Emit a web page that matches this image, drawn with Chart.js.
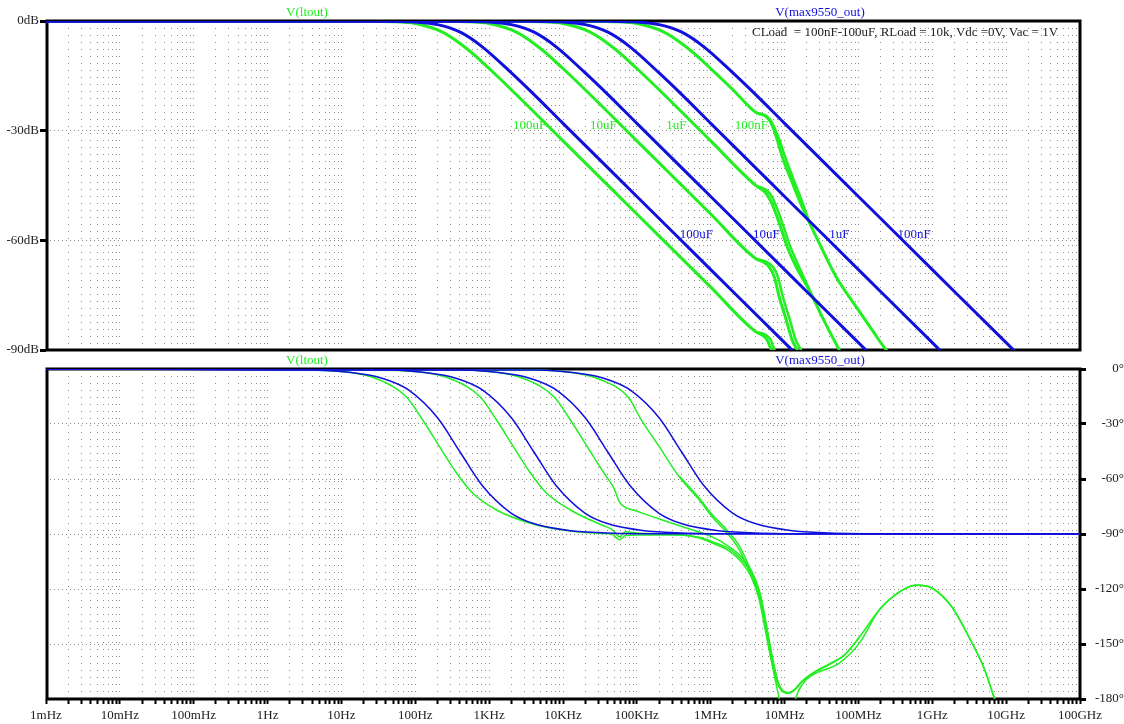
<!DOCTYPE html>
<html>
<head>
<meta charset="utf-8">
<script src="https://cdn.jsdelivr.net/npm/chart.js@4.4.1/dist/chart.umd.min.js"></script>
<style>
  html, body { margin: 0; padding: 0; background: #fff; }
  #wrap { position: relative; width: 1124px; height: 724px; overflow: hidden; }
  canvas { position: absolute; left: 0; }
  #magChart { top: 0; }
  #phaseChart { top: 352px; }
</style>
</head>
<body>
<div id="wrap">
  <canvas id="magChart" width="1124" height="362"></canvas>
  <canvas id="phaseChart" width="1124" height="372"></canvas>
</div>
<script>
// tick labels
var freqTickLabels = ['1mHz', '10mHz', '100mHz', '1Hz', '10Hz', '100Hz', '1KHz', '10KHz', '100KHz', '1MHz', '10MHz', '100MHz', '1GHz', '10GHz', '100GHz'];
var magTickLabels = ['0dB', '-30dB', '-60dB', '-90dB'];
var phaseTickLabels = ['0°', '-30°', '-60°', '-90°', '-120°', '-150°', '-180°'];
var capLabels = ['100uF', '10uF', '1uF', '100nF'];

// where the curve names sit on the magnitude plot (Hz, dB)
var greenLabelF = [3.52e3, 3.53e4, 3.43e5, 3.55e6];
var greenLabelDb = -28.5;
var blueLabelF = [6.4e5, 5.66e6, 5.5e7, 5.68e8];
var blueLabelDb = -58.5;

// ---- magnitude, V(max9550_out) ----
var fMagBlue100u = [1e-3, 10, 40, 100, 200, 400, 800, 2e3, 4e3, 1e4, 1e5, 1e6, 1e7, 3e7];
var magBlue100u  = [0, 0, -0.04, -0.3, -1, -3, -7, -14.2, -20, -28, -48, -68, -88, -97.5];
var fMagBlue10u  = [1e-3, 100, 400, 1e3, 2e3, 4e3, 8e3, 2e4, 4e4, 1e5, 1e6, 1e7, 1e8, 3e8];
var magBlue10u   = [0, 0, -0.04, -0.3, -1, -3, -7, -14.2, -20, -28, -48, -68, -88, -97.5];
var fMagBlue1u   = [1e-3, 1e3, 4e3, 1e4, 2e4, 4e4, 8e4, 2e5, 4e5, 1e6, 1e7, 1e8, 1e9, 3e9];
var magBlue1u    = [0, 0, -0.04, -0.3, -1, -3, -7, -14.2, -20, -28, -48, -68, -88, -97.5];
var fMagBlue100n = [1e-3, 1e4, 4e4, 1e5, 2e5, 4e5, 8e5, 2e6, 4e6, 1e7, 1e8, 1e9, 1e10, 3e10];
var magBlue100n  = [0, 0, -0.04, -0.3, -1, -3, -7, -14.2, -20, -28, -48, -68, -88, -97.5];

// ---- magnitude, V(ltout) (each load shows two close traces) ----
var fMagGreen100u  = [1e-3, 10, 50, 100, 230, 500, 1e3, 3e3, 1e4, 1e5, 1e6, 4.14e6, 4.99e6, 5.83e6, 6.61e6, 7.5e6];
var magGreen100u   = [0, -0.01, -0.2, -0.7, -3, -7.6, -13, -22.3, -32.8, -52.8, -72.8, -85.1, -85.9, -87.3, -90, -93];
var fMagGreen100uB = [4.14e6, 5.6e6, 6.5e6, 7.3e6, 8.2e6];
var magGreen100uB  = [-85.1, -85.9, -87.3, -90, -93];

var fMagGreen10u  = [1e-3, 100, 500, 1e3, 2.3e3, 5e3, 1e4, 3e4, 1e5, 1e6, 4.14e6, 4.99e6, 6.21e6, 7.26e6, 8.48e6, 1.054e7, 1.27e7, 1.486e7, 1.8e7];
var magGreen10u   = [0, -0.01, -0.2, -0.7, -3, -7.6, -13, -22.3, -32.8, -52.8, -65.1, -65.8, -67.3, -70.0, -75.5, -81.8, -87.3, -90, -94];
var fMagGreen10uB = [4.14e6, 5.6e6, 7.0e6, 8.1e6, 9.5e6, 1.18e7, 1.42e7, 1.66e7, 1.9e7];
var magGreen10uB  = [-65.1, -65.8, -67.3, -70.0, -75.5, -81.8, -87.3, -90, -93];

var fMagGreen1u  = [1e-3, 1e3, 5e3, 1e4, 2.3e4, 5e4, 1e5, 3e5, 1e6, 4.14e6, 5.0e6, 5.66e6, 6.82e6, 8.48e6, 1.087e7, 1.44e7, 2.16e7, 3.24e7, 5.5e7, 7e7];
var magGreen1u   = [0, -0.01, -0.2, -0.7, -3, -7.6, -13, -22.3, -32.8, -45.1, -46.2, -47.2, -50.2, -55.3, -61.8, -67.3, -73.6, -81.0, -90, -94];
var fMagGreen1uB = [4.14e6, 5.6e6, 6.4e6, 7.6e6, 9.4e6, 1.2e7, 1.55e7, 2.16e7];
var magGreen1uB  = [-45.1, -46.2, -47.4, -50.4, -55.5, -61.8, -67, -73.4];

var fMagGreen100n  = [1e-3, 1e4, 5e4, 1e5, 2.3e5, 5e5, 1e6, 2e6, 4.14e6, 5.0e6, 5.66e6, 6.61e6, 7.73e6, 9.31e6, 1.23e7, 1.58e7, 2.03e7, 2.94e7, 5.0e7, 9.33e7, 1.53e8, 2.38e8, 3e8];
var magGreen100n   = [0, -0.01, -0.2, -0.7, -3, -7.6, -13, -18.8, -25.1, -25.6, -26.2, -28, -31.7, -37.2, -43.5, -49, -53.9, -60.7, -70, -78.2, -84.5, -90, -92];
var fMagGreen100nB = [4.14e6, 5.5e6, 6.4e6, 7.3e6, 8.5e6, 1.02e7, 1.33e7, 1.7e7, 2.1e7];
var magGreen100nB  = [-25.1, -25.8, -27.0, -29.2, -32.5, -37.2, -43.5, -49, -54.3];

// ---- phase, V(max9550_out) ----
var fPhBlue100u = [1e-3, 4, 20, 40, 80, 200, 400, 800, 2e3, 4e3, 1.2e4, 4e4, 4e5, 1e11];
var phBlue100u  = [0, -0.6, -2.9, -5.7, -11.3, -26.6, -45, -63.4, -78.7, -84.3, -88.1, -89.4, -89.9, -90];
var fPhBlue10u  = [1e-3, 40, 200, 400, 800, 2e3, 4e3, 8e3, 2e4, 4e4, 1.2e5, 4e5, 4e6, 1e11];
var phBlue10u   = [0, -0.6, -2.9, -5.7, -11.3, -26.6, -45, -63.4, -78.7, -84.3, -88.1, -89.4, -89.9, -90];
var fPhBlue1u   = [1e-3, 400, 2e3, 4e3, 8e3, 2e4, 4e4, 8e4, 2e5, 4e5, 1.2e6, 4e6, 4e7, 1e11];
var phBlue1u    = [0, -0.6, -2.9, -5.7, -11.3, -26.6, -45, -63.4, -78.7, -84.3, -88.1, -89.4, -89.9, -90];
var fPhBlue100n = [1e-3, 4e3, 2e4, 4e4, 8e4, 2e5, 4e5, 8e5, 2e6, 4e6, 1.2e7, 4e7, 4e8, 1e11];
var phBlue100n  = [0, -0.6, -2.9, -5.7, -11.3, -26.6, -45, -63.4, -78.7, -84.3, -88.1, -89.4, -89.9, -90];

// ---- phase, V(ltout) ----
var fPhGreen100u = [1e-3, 1, 11.8, 33, 76, 126, 214, 362, 597, 1260, 3520, 9840, 3e4, 4.6e4, 5.8e4, 7e4, 1e5, 3.77e5, 7.02e5, 1.05e6, 1.79e6, 2.6e6, 3.55e6, 4.55e6, 5.48e6, 6.61e6, 7.97e6, 9.6e6, 1.12e7, 1.35e7, 1.73e7, 2.52e7, 4.03e7, 6.41e7, 1.03e8, 1.91e8, 3.56e8, 6.05e8, 9.95e8, 1.85e9, 3.46e9, 5.02e9, 7.08e9, 8.81e9];
var phGreen100u  = [0, -0.2, -1.6, -6, -15.3, -27.8, -42.5, -56.7, -67.6, -76.9, -84, -87.8, -89.6, -90.2, -93.2, -90.8, -90.5, -90.6, -92.2, -94.9, -99.3, -105.3, -113.5, -126, -142.4, -158.8, -171.3, -176.2, -176.7, -175.1, -170.2, -165.3, -160.9, -156, -146.2, -131.5, -121.6, -117.8, -119.5, -129.8, -149.5, -163.1, -180.5, -189];

var fPhGreen10u = [1e-3, 10, 118, 330, 760, 1260, 2140, 3620, 5970, 12600, 35200, 4.6e4, 5.8e4, 7e4, 1e5, 3.77e5, 7.02e5, 1.05e6, 1.79e6, 2.6e6, 3.55e6, 4.55e6, 5.48e6, 6.61e6, 7.97e6, 9.6e6, 1.12e7, 1.35e7, 1.73e7, 2.52e7, 4.03e7, 6.41e7, 1.03e8];
var phGreen10u  = [0, -0.2, -1.6, -6, -15.3, -27.8, -42.5, -56.7, -67.6, -76.9, -85.5, -87.5, -91.5, -88.8, -89.4, -90.4, -91.8, -94.2, -98.2, -103.8, -111.5, -123.5, -140, -157, -170.5, -176, -176.8, -175.3, -170.5, -165.6, -161.2, -156.3, -146.4];

var fPhGreen1u = [1e-3, 100, 1180, 3300, 7600, 12600, 21400, 36200, 4.9e4, 5.8e4, 7e4, 9.86e4, 2.22e5, 4.68e5, 1.05e6, 1.79e6, 2.6e6, 3.55e6, 4.55e6, 5.48e6, 6.61e6, 7.97e6, 9.6e6, 1.12e7, 1.35e7, 1.73e7, 2.52e7];
var phGreen1u  = [0, -0.2, -1.6, -6, -15.3, -27.8, -42.5, -57, -65, -72.5, -75.5, -77.5, -82.4, -86.7, -91.6, -97, -102.5, -110, -121, -137, -155, -169.5, -175.7, -176.5, -175, -170.3, -165.5];

var fPhGreen100n = [1e-3, 1e3, 11800, 33000, 76000, 1.15e5, 2.02e5, 3.77e5, 7.02e5, 1.05e6, 1.63e6, 2.44e6, 3.6e6, 4.7e6, 5.7e6, 6.9e6, 8.5e6, 9.9e6, 1.27e7, 1.4e7, 1.8e7, 2.37e7, 5.5e7, 1.03e8, 1.91e8, 3.56e8, 6.05e8, 9.95e8, 1.85e9, 3.46e9, 5.02e9, 7.08e9, 8.81e9];
var phGreen100n  = [0, -0.2, -1.6, -6, -15.3, -27.8, -42.5, -59, -71.5, -80.7, -89, -98.7, -113.5, -126, -144, -162.6, -180.5, -197, -191, -180.5, -171.3, -167, -160.4, -149.5, -131.5, -121.8, -118, -119.6, -130, -149.6, -163.2, -180.5, -189];
var fPhGreen100nB = [3.77e5, 7.02e5, 1.05e6, 1.63e6, 2.44e6, 3.6e6, 4.7e6, 5.7e6, 6.9e6, 8.2e6, 9.6e6, 1.12e7, 1.35e7];
var phGreen100nB  = [-58.5, -70.5, -79.5, -87.5, -96.5, -111, -123, -140, -158, -171, -176, -176.8, -175.3];

var GREEN = '#22ee22';
var BLUE = '#1010dd';
var GRID = '#8c8c8c';
var TEXT = '#222';

Chart.defaults.font.family = '"Liberation Serif", "Times New Roman", serif';
Chart.defaults.font.size = 13;
Chart.defaults.color = TEXT;

// log tick positions 1..9 per decade, 1mHz to 100GHz
var freqTicks = [];
for (var d = -3; d < 11; d++) {
  for (var k = 1; k <= 9; k++) freqTicks.push(Number((k * Math.pow(10, d)).toPrecision(6)));
}
freqTicks.push(1e11);

function pts(fs, vs) {
  return fs.map(function (f, i) { return {x: f, y: vs[i]}; });
}

function line(fs, vs, color, width) {
  return {
    data: pts(fs, vs),
    borderColor: color,
    borderWidth: width,
    pointRadius: 0,
    fill: false,
    cubicInterpolationMode: 'monotone'
  };
}

function freqAxis(showLabels) {
  return {
    type: 'logarithmic',
    min: 1e-3,
    max: 1e11,
    afterBuildTicks: function (scale) {
      scale.ticks = freqTicks.map(function (v) { return {value: v}; });
    },
    afterFit: function (scale) { scale.height = showLabels ? 25 : 0; },
    ticks: {
      display: showLabels,
      autoSkip: false,
      maxRotation: 0,
      minRotation: 0,
      padding: 4,
      color: TEXT,
      callback: function (v) {
        var lg = Math.log10(v);
        var r = Math.round(lg);
        return Math.abs(lg - r) < 1e-6 ? freqTickLabels[r + 3] : '';
      }
    },
    grid: {
      color: GRID,
      lineWidth: 1,
      drawTicks: showLabels,
      tickLength: 5,
      tickColor: '#000',
      tickWidth: 2,
      borderDash: [1, 6]
    },
    border: {display: false, dash: [1, 6]}
  };
}

var framePlugin = {
  id: 'frame',
  beforeDatasetsDraw: function (chart) {
    var a = chart.chartArea, ctx = chart.ctx;
    ctx.save();
    ctx.lineWidth = 3;
    ctx.strokeStyle = '#000';
    ctx.strokeRect(a.left + 1, a.top, a.right - a.left - 1, a.bottom - a.top);
    ctx.restore();
  }
};

function titles(ctx, area) {
  ctx.font = '13px "Liberation Serif"';
  ctx.textAlign = 'center';
  ctx.textBaseline = 'middle';
  ctx.fillStyle = GREEN;
  ctx.fillText('V(ltout)', 307, area.top - 8);
  ctx.fillStyle = BLUE;
  ctx.fillText('V(max9550_out)', 820, area.top - 8);
}

var magTextPlugin = {
  id: 'magText',
  afterDatasetsDraw: function (chart) {
    var ctx = chart.ctx, area = chart.chartArea;
    var xs = chart.scales.x, ys = chart.scales.y;
    ctx.save();
    titles(ctx, area);
    ctx.fillStyle = TEXT;
    ctx.fillText('CLoad  = 100nF-100uF, RLoad = 10k, Vdc =0V, Vac = 1V', area.right - 175, area.top + 12);
    capLabels.forEach(function (lbl, i) {
      ctx.fillStyle = GREEN;
      ctx.fillText(lbl, xs.getPixelForValue(greenLabelF[i]), ys.getPixelForValue(greenLabelDb));
      ctx.fillStyle = BLUE;
      ctx.fillText(lbl, xs.getPixelForValue(blueLabelF[i]), ys.getPixelForValue(blueLabelDb));
    });
    ctx.restore();
  }
};

var phaseTextPlugin = {
  id: 'phaseText',
  afterDatasetsDraw: function (chart) {
    var ctx = chart.ctx;
    ctx.save();
    titles(ctx, chart.chartArea);
    ctx.restore();
  }
};

var common = {
  animation: false,
  responsive: false,
  devicePixelRatio: 1,
  events: [],
  plugins: {legend: {display: false}, tooltip: {enabled: false}}
};

new Chart(document.getElementById('magChart'), {
  type: 'line',
  data: {
    datasets: [
      line(fMagBlue100u, magBlue100u, BLUE, 3),
      line(fMagBlue10u, magBlue10u, BLUE, 3),
      line(fMagBlue1u, magBlue1u, BLUE, 3),
      line(fMagBlue100n, magBlue100n, BLUE, 3),
      line(fMagGreen100u, magGreen100u, GREEN, 3),
      line(fMagGreen100uB, magGreen100uB, GREEN, 2.5),
      line(fMagGreen10u, magGreen10u, GREEN, 3),
      line(fMagGreen10uB, magGreen10uB, GREEN, 2.5),
      line(fMagGreen1u, magGreen1u, GREEN, 3),
      line(fMagGreen1uB, magGreen1uB, GREEN, 2.5),
      line(fMagGreen100n, magGreen100n, GREEN, 3),
      line(fMagGreen100nB, magGreen100nB, GREEN, 2.5)
    ]
  },
  options: Object.assign({}, common, {
    layout: {padding: {top: 21, right: 44, bottom: 12, left: 0}},
    scales: {
      x: freqAxis(false),
      y: {
        position: 'left',
        min: -90,
        max: 0,
        afterFit: function (scale) { scale.width = 46; },
        ticks: {
          stepSize: 30,
          padding: 1,
          color: TEXT,
          callback: function (v) { return magTickLabels[Math.round(-v / 30)]; }
        },
        grid: {color: GRID, lineWidth: 1, tickLength: 6, tickColor: '#000', tickWidth: 3, borderDash: [1, 3]},
        border: {display: false, dash: [1, 3]}
      }
    }
  }),
  plugins: [framePlugin, magTextPlugin]
});

new Chart(document.getElementById('phaseChart'), {
  type: 'line',
  data: {
    datasets: [
      line(fPhBlue100u, phBlue100u, BLUE, 1.5),
      line(fPhBlue10u, phBlue10u, BLUE, 1.5),
      line(fPhBlue1u, phBlue1u, BLUE, 1.5),
      line(fPhBlue100n, phBlue100n, BLUE, 1.5),
      line(fPhGreen100u, phGreen100u, GREEN, 1.5),
      line(fPhGreen10u, phGreen10u, GREEN, 1.5),
      line(fPhGreen1u, phGreen1u, GREEN, 1.5),
      line(fPhGreen100n, phGreen100n, GREEN, 1.5),
      line(fPhGreen100nB, phGreen100nB, GREEN, 1.5)
    ]
  },
  options: Object.assign({}, common, {
    layout: {padding: {top: 17, right: 0, bottom: 0, left: 46}},
    scales: {
      x: freqAxis(true),
      y: {
        position: 'right',
        min: -180,
        max: 0,
        afterFit: function (scale) { scale.width = 44; },
        ticks: {
          stepSize: 30,
          padding: 3,
          crossAlign: 'far',
          color: TEXT,
          callback: function (v) { return phaseTickLabels[Math.round(-v / 30)]; }
        },
        grid: {color: GRID, lineWidth: 1, tickLength: 6, tickColor: '#000', tickWidth: 3, borderDash: [1, 3]},
        border: {display: false, dash: [1, 3]}
      }
    }
  }),
  plugins: [framePlugin, phaseTextPlugin]
});
</script>
</body>
</html>
